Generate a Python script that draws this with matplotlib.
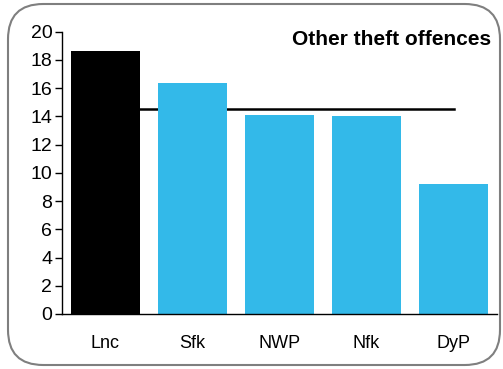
import matplotlib
matplotlib.use("Agg")
import matplotlib.pyplot as plt
from matplotlib.patches import FancyBboxPatch

plt.rcParams['font.family'] = ['Liberation Sans', 'DejaVu Sans']

areas = ['Lnc', 'Sfk', 'NWP', 'Nfk', 'DyP']
values = [18.6, 16.35, 14.1, 14.0, 9.2]
average = 14.5
colours = ['#000000', '#33B9E9', '#33B9E9', '#33B9E9', '#33B9E9']

fig = plt.figure(figsize=(5.03, 3.69), dpi=100)
ax = fig.add_axes([62/503, 1 - 314/369, 435/503, (314 - 31.7)/369])

x = list(range(len(areas)))
ax.bar(x, values, width=0.8, color=colours, zorder=2)
ax.plot([x[0], x[-1]], [average, average], color='black', lw=1.8, zorder=1)

ax.set_xlim(-0.5, len(areas) - 0.5)
ax.set_ylim(0, 20)
ax.set_yticks(range(0, 21, 2))
ax.set_xticks(x)
ax.set_xticklabels(areas)
ax.tick_params(axis='x', length=0, pad=15, labelsize=13)
ax.tick_params(axis='y', length=5, width=1, labelsize=14, pad=2)
for s in ['top', 'right']:
    ax.spines[s].set_visible(False)
ax.spines['left'].set_linewidth(1)
ax.spines['bottom'].set_linewidth(1)

ax.text(0.987, 0.972, 'Other theft offences', transform=ax.transAxes,
        ha='right', va='center', fontsize=15, fontweight='bold')

# rounded frame around the whole chart
border = FancyBboxPatch((8/503, 4/369), 492/503, 361/369,
                        boxstyle='round,pad=0,rounding_size=0.07',
                        transform=fig.transFigure, fill=False,
                        edgecolor='#7f7f7f', lw=1.5, mutation_aspect=503/369)
fig.patches.append(border)

fig.savefig('out.png', dpi=100)
